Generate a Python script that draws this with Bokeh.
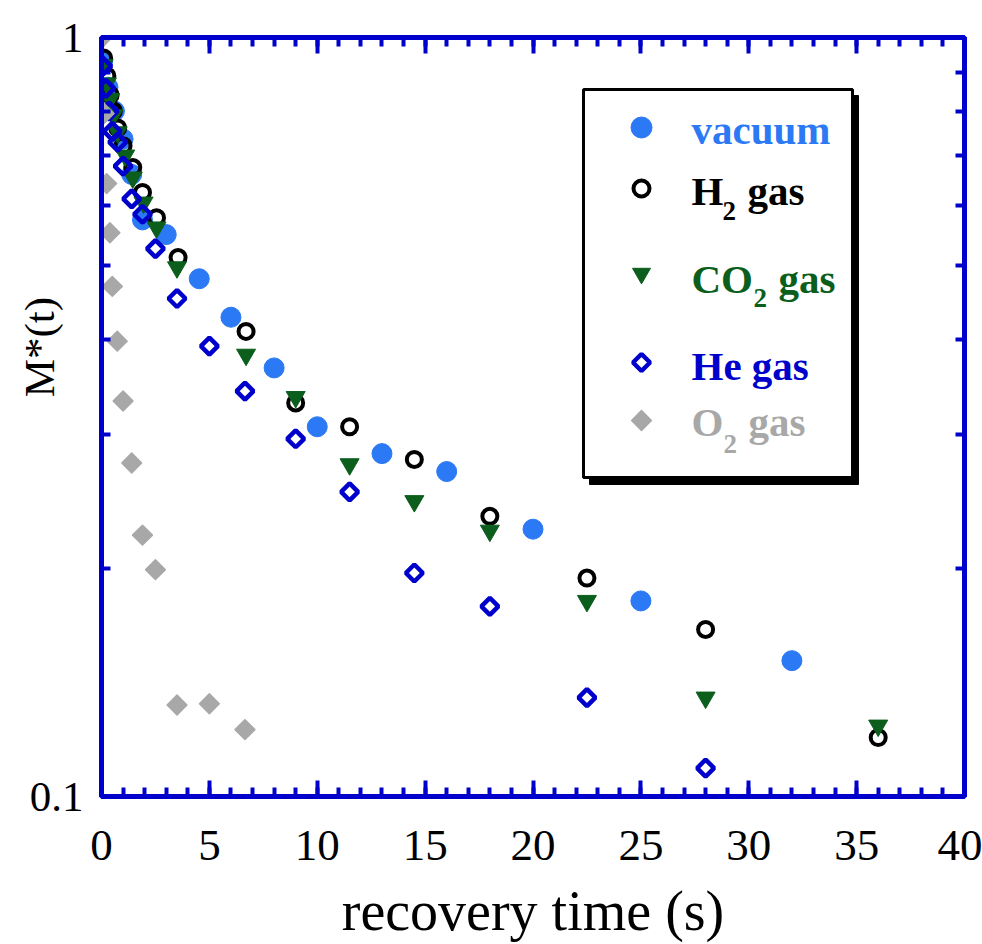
import numpy as np
from bokeh.plotting import figure
from bokeh.models import (LinearAxis, FixedTicker, NumeralTickFormatter, Range1d,
                          BoxAnnotation, Label)
from bokeh.embed import file_html
from bokeh.resources import INLINE

# ---------------- data ----------------
vac_t = [0.05, 0.3, 0.6, 1.0, 1.4, 1.9, 3.0, 4.53, 6.0, 8.0, 10.0, 13.0, 16.0, 20.0, 25.0, 32.0]
vac_y = [0.93, 0.86, 0.80, 0.735, 0.66, 0.575, 0.550, 0.481, 0.428, 0.367, 0.307, 0.283, 0.268, 0.225, 0.181, 0.151]

h2_t = [0.1, 0.25, 0.4, 0.55, 0.75, 1.0, 1.45, 1.9, 2.55, 3.55, 6.7, 9.0, 11.5, 14.5, 18.0, 22.5, 28.0, 36.0]
h2_y = [0.94, 0.89, 0.84, 0.80, 0.76, 0.72, 0.674, 0.625, 0.579, 0.513, 0.410, 0.330, 0.307, 0.278, 0.234, 0.194, 0.166, 0.1196]

co2_t = [0.05, 0.1, 0.25, 0.4, 0.55, 0.75, 1.1, 1.45, 1.95, 2.55, 3.5, 6.7, 9.0, 11.5, 14.5, 18.0, 22.5, 28.0, 36.0]
co2_y = [1.0, 0.92, 0.87, 0.83, 0.79, 0.75, 0.699, 0.654, 0.606, 0.562, 0.498, 0.382, 0.336, 0.274, 0.245, 0.224, 0.181, 0.135, 0.124]

he_t = [0.06, 0.2, 0.35, 0.5, 0.75, 1.0, 1.4, 1.9, 2.5, 3.5, 5.0, 6.65, 9.0, 11.5, 14.5, 18.0, 22.5, 28.0]
he_y = [0.917, 0.857, 0.80, 0.752, 0.728, 0.677, 0.613, 0.585, 0.527, 0.453, 0.392, 0.342, 0.296, 0.252, 0.197, 0.178, 0.135, 0.109]

o2_t = [0.03, 0.12, 0.24, 0.39, 0.50, 0.73, 1.0, 1.4, 1.9, 2.5, 3.5, 5.0, 6.65]
o2_y = [1.0, 0.794, 0.642, 0.553, 0.470, 0.398, 0.332, 0.275, 0.221, 0.199, 0.132, 0.1325, 0.1225]

x_major_ticks = [0, 5, 10, 15, 20, 25, 30, 35, 40]
x_minor_ticks = list(range(0, 41))
y_major_ticks = [0.1, 1.0]
y_minor_ticks = [0.2, 0.3, 0.4, 0.5, 0.6, 0.7, 0.8, 0.9]

x_title = "recovery time (s)"
y_title = "M*(t)"

# ---------------- style ----------------
FRAME = "#0000CC"
VAC = "#2B79F5"
H2C = "#000000"
CO2C = "#0B5E1C"
HEC = "#0000CC"
O2C = "#A8A8A8"
SERIF = "Liberation Serif"

W, H = 982, 944
FL, FR, FT, FB = 101, 964, 37, 796

p = figure(width=W, height=H, output_backend="svg", toolbar_location=None,
           x_range=Range1d(0, 40), y_range=Range1d(0.1, 1.0), y_axis_type="log",
           min_border_left=FL, min_border_right=W - FR,
           min_border_top=FT, min_border_bottom=H - FB)
p.background_fill_color = "white"
p.border_fill_color = "white"
p.grid.visible = False
p.outline_line_color = FRAME
p.outline_line_width = 5


def style_axis(ax):
    ax.axis_line_color = FRAME
    ax.axis_line_width = 5
    ax.major_tick_line_color = FRAME
    ax.minor_tick_line_color = FRAME
    ax.major_tick_line_width = 4
    ax.minor_tick_line_width = 4
    ax.major_tick_in = 16
    ax.major_tick_out = 0
    ax.minor_tick_in = 9
    ax.minor_tick_out = 0
    ax.major_label_text_font = SERIF
    ax.major_label_text_color = "black"
    ax.axis_label_text_font = SERIF
    ax.axis_label_text_font_style = "normal"
    ax.axis_label_text_color = "black"


xt = FixedTicker(ticks=x_major_ticks, minor_ticks=x_minor_ticks)
yt = FixedTicker(ticks=y_major_ticks, minor_ticks=y_minor_ticks)

xa = p.xaxis[0]
ya = p.yaxis[0]
xa.ticker = xt
ya.ticker = yt
ya.formatter = NumeralTickFormatter(format="0.[0]")
style_axis(xa)
style_axis(ya)
xa.major_label_text_font_size = "45px"
xa.major_label_standoff = 34
xa.axis_label = x_title
xa.axis_label_text_font_size = "56px"
xa.axis_label_standoff = 17

ya.major_label_text_font_size = "43px"
ya.major_label_standoff = 18
ya.axis_label = "\u00a0" * 13 + y_title
ya.axis_label_text_font_size = "43px"
ya.axis_label_standoff = -36

top_ax = LinearAxis(ticker=xt)
style_axis(top_ax)
top_ax.major_label_overrides = {v: "" for v in x_major_ticks}
top_ax.major_label_text_font_size = "8px"
top_ax.major_label_standoff = 0
p.add_layout(top_ax, "above")

right_ax = LinearAxis(ticker=FixedTicker(ticks=[], minor_ticks=y_minor_ticks))
style_axis(right_ax)
right_ax.major_label_standoff = 0
p.add_layout(right_ax, "right")

# ---------------- data series (bottom -> top) ----------------
p.scatter(vac_t, vac_y, marker="circle", size=20, fill_color=VAC, line_color=VAC)
p.scatter(h2_t, h2_y, marker="circle", size=15, fill_color=None, line_color=H2C, line_width=4)
p.scatter(co2_t, co2_y, marker="inverted_triangle", size=19, fill_color=CO2C, line_color=CO2C)
p.scatter(he_t, he_y, marker="square", angle=np.pi / 4, size=12, fill_color=None,
          line_color=HEC, line_width=4.5)
p.scatter(o2_t, o2_y, marker="square", angle=np.pi / 4, size=14, fill_color=O2C, line_color=O2C,
          line_width=1.5, line_join="round")


# ---------------- legend (drawn by hand) ----------------
def sx(cx):
    return cx - FL


def sy(cy):
    return FB - cy


def dx(cx):
    return (cx - FL) / (FR - FL) * 40.0


def dy(cy):
    return 10 ** (-(cy - FT) / (FB - FT))


shadow = BoxAnnotation(left=sx(589), right=sx(858), top=sy(95), bottom=sy(484),
                       left_units="screen", right_units="screen", top_units="screen",
                       bottom_units="screen", fill_color="black", fill_alpha=1.0,
                       line_color="black", line_alpha=1.0, level="underlay")
box = BoxAnnotation(left=sx(583), right=sx(852), top=sy(89), bottom=sy(477),
                    left_units="screen", right_units="screen", top_units="screen",
                    bottom_units="screen", fill_color="white", fill_alpha=1.0,
                    line_color="black", line_width=3, line_alpha=1.0, level="underlay")
p.add_layout(shadow)
p.add_layout(box)

LX = 641
rows = [127, 188, 273, 362, 420]
p.scatter([dx(LX)], [dy(rows[0])], marker="circle", size=21, fill_color=VAC, line_color=VAC)
p.scatter([dx(LX)], [dy(rows[1])], marker="circle", size=16, fill_color=None, line_color=H2C, line_width=4)
p.scatter([dx(LX)], [dy(rows[2])], marker="inverted_triangle", size=18, fill_color=CO2C, line_color=CO2C)
p.scatter([dx(LX)], [dy(rows[3])], marker="square", angle=np.pi / 4, size=12, fill_color=None,
          line_color=HEC, line_width=4.5)
p.scatter([dx(LX)], [dy(rows[4])], marker="square", angle=np.pi / 4, size=14, fill_color=O2C,
          line_color=O2C, line_width=1.5, line_join="round")

SHIFT = 13


def txt(s, cx, cy, color, size="41px"):
    p.add_layout(Label(x=sx(cx), y=sy(cy - SHIFT), x_units="screen", y_units="screen", text=s,
                       text_font=SERIF, text_font_size=size, text_font_style="bold",
                       text_color=color, text_baseline="alphabetic", text_align="left"))


TX = 691
txt("vacuum", TX, 142, VAC)
txt("H", TX, 203, H2C)
txt("2", 722, 223, H2C, "27px")
txt("gas", 747, 203, H2C)
txt("CO", TX, 291, CO2C)
txt("2", 753, 310, CO2C, "27px")
txt("gas", 778, 291, CO2C)
txt("He gas", TX, 378, HEC)
txt("O", TX, 434, O2C)
txt("2", 723, 456, O2C, "27px")
txt("gas", 748, 434, O2C)

open("out.html", "w").write(file_html(p, INLINE))
